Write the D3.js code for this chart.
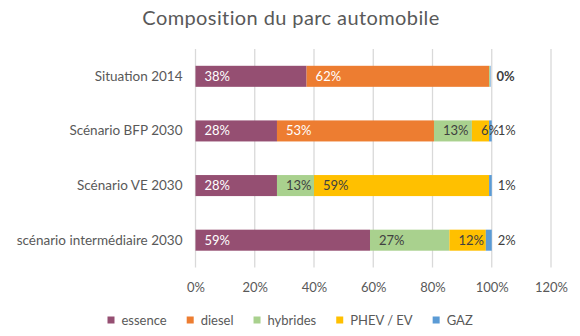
<!DOCTYPE html>
<html>
<head>
<meta charset="utf-8">
<script src="https://cdn.jsdelivr.net/npm/d3@7"></script>
<style>
  body { margin: 0; background: #fff; }
  text { font-family: Lato, "Open Sans", sans-serif; }
</style>
</head>
<body>
<script>
// DATA
// =============================================================================

const categories = ["Situation 2014", "Scénario BFP 2030", "Scénario VE 2030", "scénario intermédiaire 2030"];
const seriesNames = ["essence", "diesel", "hybrides", "PHEV / EV", "GAZ"];
const essence  = [37.5, 27.5, 27.5, 58.9];
const diesel   = [61.6, 53.0, 0, 0];
const hybrides = [0.3, 12.8, 12.5, 26.8];
const phev     = [0, 5.8, 59.1, 12.3];
const gaz      = [0.2, 0.9, 0.9, 2.0];
const xTicks   = [0, 20, 40, 60, 80, 100, 120];

const seriesValues = [essence, diesel, hybrides, phev, gaz];

// CONFIG
// =============================================================================

const width = 580;
const height = 336;
const plot = { left: 195.5, right: 551, top: 49, bottom: 267.5 };
const colors = ["#954F72", "#ED7D31", "#A9D18E", "#FFC000", "#5B9BD5"];
const labelColors = ["#ffffff", "#ffffff", "#404040", "#404040", "#404040"];
const textColor = "#595959";

// build rows for the stack
const rows = categories.map((c, i) => {
  const row = { cat: c };
  seriesNames.forEach((s, j) => { row[s] = seriesValues[j][i]; });
  return row;
});
const stacked = d3.stack().keys(seriesNames)(rows);

// SCALES
// =============================================================================

const xScale = d3.scaleLinear()
    .domain([0, 120])
    .range([plot.left, plot.right]);

const yScale = d3.scaleBand()
    .domain(categories)
    .range([plot.top, plot.bottom])
    .paddingInner(0.615)
    .paddingOuter(0.3075);

// SVG
// =============================================================================

const svg = d3.select("body")
    .append("svg")
    .attr("width", width)
    .attr("height", height);

svg.append("text")
    .attr("x", 291)
    .attr("y", 25)
    .attr("text-anchor", "middle")
    .attr("font-size", 20)
    .attr("letter-spacing", 0.4)
    .attr("fill", textColor)
    .text("Composition du parc automobile");

// gridlines
svg.append("g")
    .selectAll("line")
    .data(xTicks)
    .enter()
    .append("line")
    .attr("x1", d => xScale(d))
    .attr("x2", d => xScale(d))
    .attr("y1", plot.top)
    .attr("y2", plot.bottom)
    .attr("stroke", "#d9d9d9")
    .attr("stroke-width", 1.3);

// x axis tick labels
const xAxis = svg.append("g")
    .attr("transform", `translate(0,${plot.bottom})`)
    .call(d3.axisBottom(xScale).tickValues(xTicks).tickFormat(d => d + "%").tickSize(0).tickPadding(15));
xAxis.select(".domain").remove();
xAxis.selectAll("text")
    .attr("font-size", 13)
    .attr("font-family", "Lato, sans-serif")
    .attr("fill", textColor);

// category labels
const yAxis = svg.append("g")
    .attr("transform", `translate(${plot.left},0)`)
    .call(d3.axisLeft(yScale).tickSize(0).tickPadding(13));
yAxis.select(".domain").remove();
yAxis.selectAll("text")
    .attr("font-size", 13.5)
    .attr("font-family", "Lato, sans-serif")
    .attr("fill", textColor);

// BARS
// =============================================================================

const layers = svg.selectAll("g.layer")
    .data(stacked)
    .enter()
    .append("g")
    .attr("class", "layer")
    .attr("fill", (d, i) => colors[i]);

layers.selectAll("rect")
    .data(d => d)
    .enter()
    .append("rect")
    .attr("x", d => xScale(d[0]))
    .attr("y", d => yScale(d.data.cat))
    .attr("width", d => xScale(d[1]) - xScale(d[0]))
    .attr("height", yScale.bandwidth());

// LABELS
// =============================================================================

stacked.forEach((layer, i) => {
  const outside = i === seriesNames.length - 1;
  svg.append("g")
    .selectAll("text")
    .data(layer.filter(d => outside || (d[1] - d[0]) >= 1))
    .enter()
    .append("text")
    .attr("x", d => outside ? xScale(d[1]) + 6 : xScale(d[0]) + 9)
    .attr("y", d => yScale(d.data.cat) + yScale.bandwidth() / 2)
    .attr("dy", "0.35em")
    .attr("font-size", 13)
    .attr("font-weight", d => (outside && d.data.cat === categories[0]) ? "bold" : "normal")
    .attr("fill", outside ? "#404040" : labelColors[i])
    .text(d => Math.round(d[1] - d[0]) + "%");
});

// LEGEND
// =============================================================================

const legend = svg.append("g").attr("transform", "translate(107.5,320)");
let lx = 0;
seriesNames.forEach((s, i) => {
  const item = legend.append("g").attr("transform", `translate(${lx},0)`);
  item.append("rect")
    .attr("x", 0).attr("y", -3.5)
    .attr("width", 7).attr("height", 7)
    .attr("fill", colors[i]);
  const t = item.append("text")
    .attr("x", 14)
    .attr("dy", "0.35em")
    .attr("font-size", 13)
    .attr("fill", textColor)
    .text(s);
  lx += 14 + t.node().getComputedTextLength() + 20;
});
</script>
</body>
</html>
